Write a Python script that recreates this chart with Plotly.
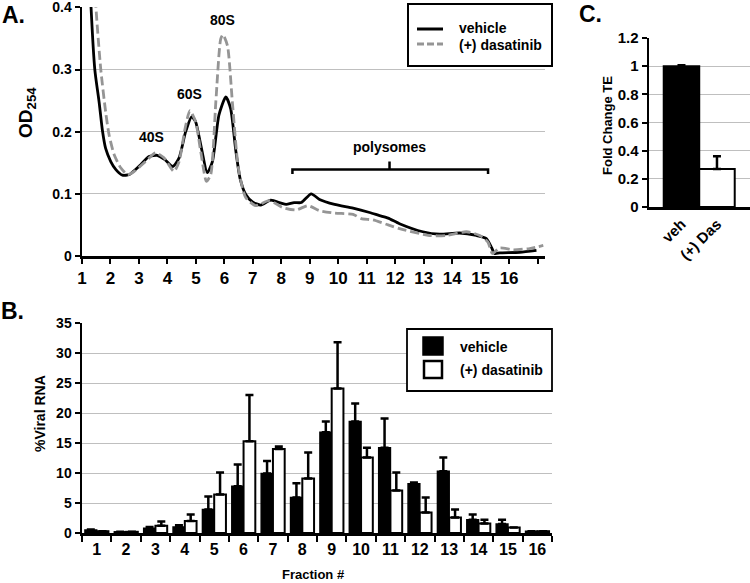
import plotly.graph_objects as go

W, H = 750, 583

# ---------------- Panel A: OD254 profiles ----------------
vehicle_x = [1.18, 1.31, 1.45, 1.60, 1.72, 1.83, 2.01, 2.19, 2.42, 2.66, 2.90, 3.06, 3.35,
             3.64, 3.91, 4.19, 4.41, 4.64, 4.85, 4.99, 5.17, 5.40, 5.58, 5.81, 6.05, 6.22,
             6.40, 6.55, 6.75, 6.99, 7.28, 7.63, 7.99, 8.17, 8.45, 8.70, 9.05, 9.34, 9.87,
             10.52, 11.10, 11.45, 11.75, 12.15, 12.97, 13.56, 14.26, 14.85, 15.20, 15.38,
             15.49, 15.67, 16.37, 16.96]
vehicle_od = [0.56, 0.407, 0.30, 0.248, 0.201, 0.173, 0.152, 0.139, 0.130, 0.131, 0.140,
              0.147, 0.160, 0.162, 0.155, 0.144, 0.158, 0.200, 0.224, 0.216, 0.179, 0.134,
              0.152, 0.227, 0.256, 0.237, 0.170, 0.125, 0.099, 0.087, 0.082, 0.090, 0.085,
              0.083, 0.086, 0.086, 0.100, 0.091, 0.083, 0.077, 0.070, 0.065, 0.061, 0.052,
              0.039, 0.035, 0.037, 0.033, 0.028, 0.014, 0.004, 0.005, 0.006, 0.009]
dasatinib_x = [1.35, 1.48, 1.66, 1.83, 1.95, 2.13, 2.36, 2.60, 2.83, 3.23, 3.58, 3.88, 4.23,
               4.41, 4.62, 4.79, 4.99, 5.17, 5.37, 5.52, 5.70, 5.87, 5.95, 6.11, 6.28, 6.49,
               6.75, 7.10, 7.57, 8.05, 8.52, 8.93, 9.34, 9.87, 10.52, 10.81, 11.22, 11.75,
               12.15, 13.20, 13.80, 14.50, 14.97, 15.26, 15.41, 15.67, 16.14, 16.72, 17.20]
dasatinib_od = [0.56, 0.407, 0.30, 0.232, 0.195, 0.163, 0.142, 0.131, 0.136, 0.152, 0.166,
                0.158, 0.136, 0.152, 0.205, 0.234, 0.216, 0.168, 0.120, 0.131, 0.248, 0.349,
                0.356, 0.338, 0.248, 0.142, 0.094, 0.081, 0.089, 0.078, 0.074, 0.081, 0.073,
                0.069, 0.067, 0.060, 0.058, 0.050, 0.044, 0.033, 0.033, 0.039, 0.033, 0.022,
                0.004, 0.013, 0.010, 0.012, 0.017]
a_xtick_vals = list(range(1, 17))
a_xtick_text = [str(i) for i in range(1, 17)]
a_xtick_extra = [17]
a_ytick_vals = [0, 0.1, 0.2, 0.3, 0.4]
a_ytick_text = ["0", "0.1", "0.2", "0.3", "0.4"]
peak_labels = ["40S", "60S", "80S"]
peak_x = [3.45, 4.76, 5.92]
peak_y = [0.192, 0.26, 0.38]
polysome_x = [8.39, 11.8, 15.26]
polysome_y = [0.132, 0.139, 0.152]

# ---------------- Panel B: % viral RNA ----------------
fractions = [str(i) for i in range(1, 17)]
vehicle_pct = [0.5, 0.2, 0.8, 1.0, 3.9, 7.8, 9.9, 5.9, 16.8, 18.6, 14.2, 8.2, 10.3, 2.2, 1.5, 0.3]
vehicle_err = [0.1, 0.0, 0.2, 0.3, 2.2, 3.6, 2.1, 2.4, 1.8, 3.0, 4.9, 0.2, 2.3, 0.9, 0.7, 0.0]
dasatinib_pct = [0.3, 0.2, 1.2, 2.0, 6.4, 15.3, 14.0, 9.1, 24.1, 12.6, 7.1, 3.4, 2.6, 1.6, 0.9, 0.3]
dasatinib_err = [0.0, 0.0, 0.7, 1.1, 3.7, 7.7, 0.4, 4.3, 7.7, 1.6, 3.0, 2.5, 1.3, 0.6, 0.0, 0.0]

# ---------------- Panel C: fold change TE ----------------
c_labels = ["veh", "(+) Das"]
c_values = [1.0, 0.27]
c_err = [0.006, 0.09]


def px(x):
    return x / W


def py(y):
    return 1 - y / H


FONT = "Liberation Sans, Arial, sans-serif"
GRID = "#bfbfbf"
GRAY = "#959595"

fig = go.Figure()

fig.add_trace(go.Scatter(x=vehicle_x, y=vehicle_od, mode="lines", name="vehicle",
                         line=dict(color="black", width=2.8, shape="spline", smoothing=0.6),
                         xaxis="x", yaxis="y", showlegend=False, hoverinfo="skip"))
fig.add_trace(go.Scatter(x=dasatinib_x, y=dasatinib_od, mode="lines", name="(+) dasatinib",
                         line=dict(color=GRAY, width=2.8, dash="9px,4px", shape="spline",
                                   smoothing=0.6),
                         xaxis="x", yaxis="y", showlegend=False, hoverinfo="skip"))

err_style = dict(type="data", symmetric=False, color="black", thickness=2.5, width=4)
fig.add_trace(go.Bar(x=fractions, y=vehicle_pct, name="vehicle",
                     marker=dict(color="black", line=dict(color="black", width=1.5)),
                     error_y=dict(array=vehicle_err, arrayminus=[0] * 16, **err_style),
                     xaxis="x2", yaxis="y2", showlegend=False, hoverinfo="skip"))
fig.add_trace(go.Bar(x=fractions, y=dasatinib_pct, name="(+) dasatinib",
                     marker=dict(color="white", line=dict(color="black", width=2)),
                     error_y=dict(array=dasatinib_err, arrayminus=[0] * 16, **err_style),
                     xaxis="x2", yaxis="y2", showlegend=False, hoverinfo="skip"))

fig.add_trace(go.Bar(x=[0, 1], y=c_values, width=[1, 1],
                     marker=dict(color=["black", "white"], line=dict(color="black", width=2)),
                     error_y=dict(array=c_err, arrayminus=[0, 0], **err_style),
                     xaxis="x3", yaxis="y3", showlegend=False, hoverinfo="skip"))

axis_common = dict(showline=True, linewidth=2.5, linecolor="black", zeroline=False,
                   tickwidth=2, tickcolor="black", automargin=False,
                   ticklabeloverflow="allow")

fig.update_layout(
    width=W, height=H, margin=dict(l=0, r=0, t=0, b=0),
    paper_bgcolor="white", plot_bgcolor="white",
    font=dict(family=FONT, color="black", weight="bold"),
    barmode="group", bargap=0.2, bargroupgap=0,
    xaxis=dict(domain=[px(82), px(545)], range=[1, 17.26], tickvals=a_xtick_vals,
               ticktext=a_xtick_text, ticks="outside", ticklen=5, showgrid=False, anchor="y",
               tickangle=0, tickfont=dict(size=17, family=FONT, weight="bold"),
               minor=dict(tickvals=a_xtick_extra, ticks="outside", ticklen=5, tickwidth=2,
                          tickcolor="black", showgrid=False),
               **axis_common),
    yaxis=dict(domain=[py(256), py(7)], range=[0, 0.4006], tickvals=a_ytick_vals,
               ticktext=a_ytick_text, ticks="outside", ticklen=5,
               showgrid=True, gridcolor=GRID, gridwidth=1, anchor="x",
               tickfont=dict(size=14, family=FONT, weight="bold"), **axis_common),
    xaxis2=dict(domain=[px(82), px(552)], type="category", range=[-0.5, 15.5],
                tickson="boundaries", ticks="outside", ticklen=6, showgrid=False, anchor="y2",
                tickangle=0, tickfont=dict(size=16, family=FONT, weight="bold"), **axis_common),
    yaxis2=dict(domain=[py(533), py(323)], range=[0, 35], tick0=0, dtick=5, ticks="outside",
                ticklen=5, showgrid=True, gridcolor=GRID, gridwidth=1, anchor="x2",
                tickfont=dict(size=14, family=FONT, weight="bold"), **axis_common),
    xaxis3=dict(domain=[px(649), px(750)], range=[-0.915, 1.93], tickvals=[0, 1],
                ticktext=c_labels, tickangle=-45, ticks="", showgrid=False, anchor="y3",
                tickfont=dict(size=15, family=FONT, weight="bold"), **axis_common),
    yaxis3=dict(domain=[py(207), py(38)], range=[0, 1.2], tick0=0, dtick=0.2, ticks="outside",
                ticklen=5, showgrid=True, gridcolor=GRID, gridwidth=1, anchor="x3",
                tickfont=dict(size=15, family=FONT, weight="bold"), **axis_common),
)

ann = []


def paper_text(text, x, y, size, angle=0, xanchor="center"):
    ann.append(dict(text=text, x=px(x), y=py(y), xref="paper", yref="paper",
                    showarrow=False, textangle=angle, xanchor=xanchor, yanchor="middle",
                    font=dict(size=size, family=FONT, color="black", weight="bold")))


paper_text("A.", 13, 15, 23)
paper_text("B.", 12, 311, 23)
paper_text("C.", 590, 14, 23)
paper_text("OD<sub>254</sub>", 27, 112, 19, angle=-90)
paper_text("%Viral RNA", 40, 414, 14, angle=-90)
paper_text("Fold Change TE", 607, 126, 13, angle=-90)
paper_text("Fraction #", 313, 574, 13)

for lab, xx, yy in zip(peak_labels, peak_x, peak_y):
    ann.append(dict(text=lab, x=xx, y=yy, xref="x", yref="y", showarrow=False,
                    font=dict(size=14, family=FONT, color="black", weight="bold")))
ann.append(dict(text="polysomes", x=polysome_x[1], y=0.176, xref="x", yref="y",
                showarrow=False, font=dict(size=14, family=FONT, color="black", weight="bold")))

# legend texts
paper_text("vehicle", 457, 28, 14, xanchor="left")
paper_text("(+) dasatinib", 457, 45, 14, xanchor="left")
paper_text("vehicle", 458, 347, 14, xanchor="left")
paper_text("(+) dasatinib", 458, 370, 14, xanchor="left")

shapes = []
# polysome bracket
x0, xm, x1 = polysome_x
yl, yb, yt = polysome_y
shapes.append(dict(type="path", xref="x", yref="y",
                   path=(f"M {x0},{yl} L {x0},{yb} L {x1},{yb} L {x1},{yl} "
                         f"M {xm},{yb} L {xm},{yt}"),
                   line=dict(color="black", width=2.5)))


def prect(x0, y0, x1, y1, fill, lw):
    shapes.append(dict(type="rect", xref="paper", yref="paper", x0=px(x0), x1=px(x1),
                       y0=py(y1), y1=py(y0), fillcolor=fill,
                       line=dict(color="black", width=lw)))


def pline(x0, y0, x1, y1, color, dash="solid"):
    shapes.append(dict(type="line", xref="paper", yref="paper", x0=px(x0), x1=px(x1),
                       y0=py(y0), y1=py(y1), line=dict(color=color, width=3, dash=dash)))


# legend A
prect(408, 4, 552, 66, "white", 2)
pline(417, 29, 443, 29, "black")
pline(417, 44, 443, 44, GRAY, "7px,3px")
# legend B
prect(407, 329, 552, 391, "white", 1.8)
prect(423, 337, 443, 355, "black", 1.5)
prect(424, 361, 442, 378, "white", 2.5)

fig.update_layout(annotations=ann, shapes=shapes)
fig.write_html("out.html", config={"displayModeBar": False, "staticPlot": True},
               post_script="document.body.style.margin='0';document.body.style.overflow='hidden';")
